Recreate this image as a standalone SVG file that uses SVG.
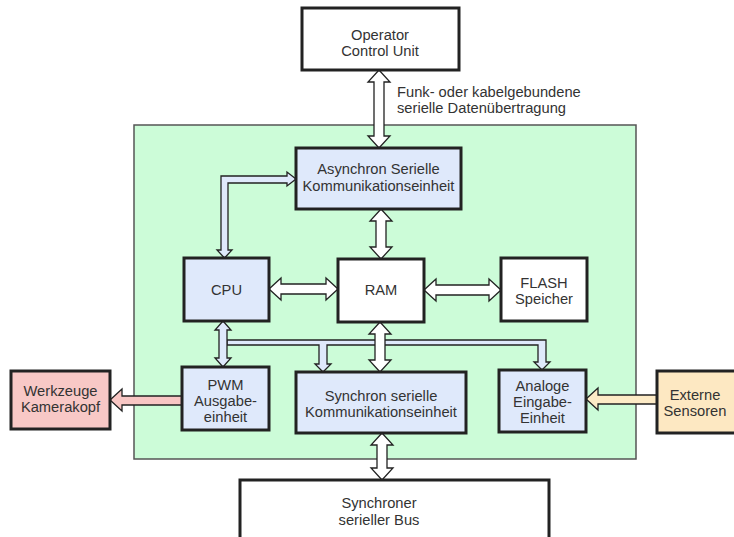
<svg xmlns="http://www.w3.org/2000/svg" width="734" height="537" viewBox="0 0 734 537">
<style>
text{font-family:"Liberation Sans",Arial,sans-serif;font-size:14.7px;fill:#333;text-anchor:middle}
.box{stroke:#222;stroke-width:3}
.blue{fill:#dfe9fb}
.white{fill:#fff}
.arr{stroke:#222;stroke-width:1.3;stroke-linejoin:miter}
</style>
<rect x="0" y="0" width="734" height="537" fill="#fff"/>
<rect id="panel" x="134" y="125" width="502" height="334" fill="#ccfcd8" stroke="#555" stroke-width="1.5"/>
<g id="connectors">
  <polygon class="arr" fill="#fff" points="379,70 390,82 384,82 384,136 390,136 379,148 368,136 374,136 374,82 368,82"/>
  <polygon class="arr" fill="#dfe9fb" points="296,179 287,172 287,176 221,176 221,250 217,250 224.5,258 232,250 228,250 228,183 287,183 287,186"/>
  <polygon class="arr" fill="#fff" points="381,209 392,221 386,221 386,247 392,247 381,259 370,247 376,247 376,221 370,221"/>
  <polygon class="arr" fill="#fff" points="269,289 281,278 281,284 326,284 326,278 338,289 326,300 326,294 281,294 281,300"/>
  <polygon class="arr" fill="#fff" points="424,290 436,279 436,285 489,285 489,279 501,290 489,301 489,295 436,295 436,301"/>
  <polygon class="arr" fill="#dfe9fb" points="227,340 546,340 546,362 550,362 542,370 534,362 538,362 538,345 327,345 327,364 331,364 323,372 315,364 319,364 319,345 227,345"/>
  <polygon class="arr" fill="#dfe9fb" points="223,321 231,330 227,330 227,358 231,358 223,367 215,358 219,358 219,330 215,330"/>
  <polygon class="arr" fill="#fff" points="380,322 391,334 385,334 385,360 391,360 380,372 369,360 375,360 375,334 369,334"/>
  <polygon class="arr" fill="#fff" points="382,433 393,445 387,445 387,468 393,468 382,480 371,468 377,468 377,445 371,445"/>
  <polygon class="arr" fill="#f8c6c4" points="110,400 122,389 122,396 182,396 182,405 122,405 122,411"/>
  <polygon class="arr" fill="#fdebc6" points="586,399 598,388 598,395 657,395 657,404 598,404 598,410"/>
</g>
<g id="operator"><rect class="box white" x="302" y="8" width="157" height="62"/><text x="380" y="40">Operator</text><text x="380" y="56">Control Unit</text></g>
<text x="397" y="97" style="text-anchor:start">Funk- oder kabelgebundene</text>
<text x="397" y="113" style="text-anchor:start">serielle Datenübertragung</text>
<g id="async"><rect class="box blue" x="296" y="148" width="165" height="61"/><text x="378.5" y="174">Asynchron Serielle</text><text x="378.5" y="191">Kommunikationseinheit</text></g>
<g id="cpu"><rect class="box blue" x="184" y="258" width="85" height="63"/><text x="226.5" y="295">CPU</text></g>
<g id="ram"><rect class="box white" x="338" y="259" width="86" height="63"/><text x="381" y="295">RAM</text></g>
<g id="flash"><rect class="box white" x="501" y="258" width="86" height="63"/><text x="544" y="288">FLASH</text><text x="544" y="304">Speicher</text></g>
<g id="pwm"><rect class="box blue" x="182" y="367" width="87" height="63"/><text x="225.5" y="390">PWM</text><text x="225.5" y="406">Ausgabe-</text><text x="225.5" y="422">einheit</text></g>
<g id="werkzeuge"><rect class="box" fill="#f8c8c6" x="11" y="371" width="99" height="58"/><text x="60.5" y="396">Werkzeuge</text><text x="60.5" y="412">Kamerakopf</text></g>
<g id="synchron"><rect class="box blue" x="296" y="372" width="170" height="61"/><text x="381" y="401">Synchron serielle</text><text x="381" y="417">Kommunikationseinheit</text></g>
<g id="analoge"><rect class="box blue" x="499" y="370" width="87" height="62"/><text x="542.5" y="391">Analoge</text><text x="542.5" y="407">Eingabe-</text><text x="542.5" y="423">Einheit</text></g>
<g id="externe"><rect class="box" fill="#fde8c2" x="657" y="371" width="90" height="62"/><text x="695" y="400">Externe</text><text x="695" y="416">Sensoren</text></g>
<g id="bus"><rect class="box white" x="240" y="480" width="309" height="70"/><text x="379" y="508">Synchroner</text><text x="379" y="525">serieller Bus</text></g>
</svg>
